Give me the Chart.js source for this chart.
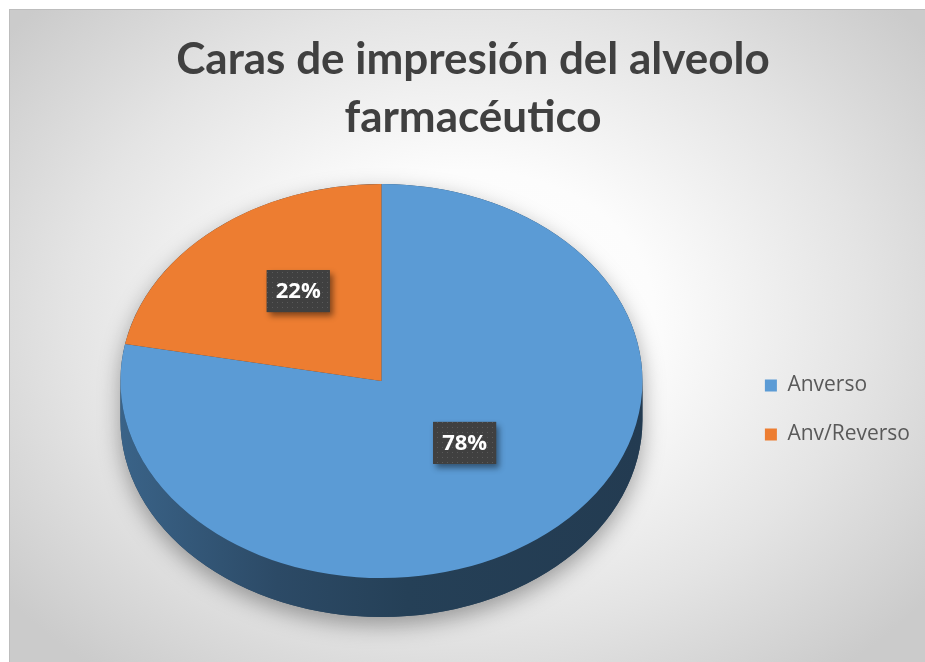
<!DOCTYPE html>
<html><head><meta charset="utf-8">
<script src="https://cdn.jsdelivr.net/npm/chart.js@4.4.1/dist/chart.umd.min.js"></script>
<style>
html,body{margin:0;padding:0;background:#fff;width:925px;height:662px;overflow:hidden;}
#frame{position:absolute;left:9px;top:9px;width:916px;height:653px;box-sizing:border-box;
  border-top:1px solid #bdbdbd;border-left:1px solid #bdbdbd;
  background:radial-gradient(ellipse 64% 70% at 50% 47%, #ffffff 0%, #fcfcfc 32%, #e4e4e4 68%, #cbcbcb 100%);}
canvas{position:absolute;left:0;top:0;}
</style></head><body>
<div id="frame"></div>
<canvas id="c" width="925" height="662"></canvas>
<script>
// ---- data ----
const titleLines = ['Caras de impresión del alveolo', 'farmacéutico'];
const categories = ['Anverso', 'Anv/Reverso'];
const percentages = [78, 22];
const sliceColors = ['#5b9bd5', '#ed7d31'];

// ---- 3D look (style constants) ----
const TILT = 0.755;       // vertical squash of the pie face
const DEPTH = 39;         // thickness of the pie side
const LABEL_FRACTION = 0.5;
const LABEL_LIFT = 14;

function shade(hex, f) {
  const n = parseInt(hex.slice(1), 16);
  const r = Math.round(((n >> 16) & 255) * f), g = Math.round(((n >> 8) & 255) * f), b = Math.round((n & 255) * f);
  return `rgb(${r},${g},${b})`;
}

function makePattern(ctx) {
  const t = document.createElement('canvas');
  t.width = 5; t.height = 5;
  const c = t.getContext('2d');
  c.fillStyle = '#404040'; c.fillRect(0, 0, 5, 5);
  c.fillStyle = '#5a5a5a'; c.fillRect(2, 2, 1, 1);
  return ctx.createPattern(t, 'repeat');
}

const pie3d = {
  id: 'pie3d',
  beforeDatasetsDraw(chart) {
    const ctx = chart.ctx;
    const meta = chart.getDatasetMeta(0);
    const a0 = meta.data[0];
    const cx = a0.x, cy = a0.y, r = a0.outerRadius, ry = r * TILT;
    ctx.save();
    // soft shadow of the whole solid
    ctx.save();
    ctx.shadowColor = 'rgba(0,0,0,0.35)';
    ctx.shadowBlur = 22;
    ctx.shadowOffsetY = 8;
    ctx.beginPath();
    ctx.ellipse(cx, cy, r, ry, 0, Math.PI, 2 * Math.PI);
    ctx.lineTo(cx + r, cy + DEPTH);
    ctx.ellipse(cx, cy + DEPTH, r, ry, 0, 0, Math.PI);
    ctx.closePath();
    ctx.fillStyle = shade(sliceColors[0], 0.42);
    ctx.fill();
    ctx.restore();
    // visible side walls
    meta.data.forEach((arc, i) => {
      const col = chart.data.datasets[0].backgroundColor[i];
      [[0, Math.PI], [2 * Math.PI, 3 * Math.PI], [-2 * Math.PI, -Math.PI]].forEach(([lo, hi]) => {
        const s = Math.max(arc.startAngle, lo), e = Math.min(arc.endAngle, hi);
        if (e <= s) return;
        const g = ctx.createLinearGradient(cx - r, 0, cx + r, 0);
        g.addColorStop(0, shade(col, 0.64));
        g.addColorStop(0.3, shade(col, 0.48));
        g.addColorStop(0.55, shade(col, 0.41));
        g.addColorStop(1, shade(col, 0.38));
        ctx.beginPath();
        ctx.ellipse(cx, cy, r, ry, 0, s, e);
        ctx.lineTo(cx + r * Math.cos(e), cy + ry * Math.sin(e) + DEPTH);
        ctx.ellipse(cx, cy + DEPTH, r, ry, 0, e, s, true);
        ctx.closePath();
        ctx.fillStyle = g;
        ctx.fill();
      });
    });
    // squash the face into an ellipse
    ctx.translate(cx, cy);
    ctx.scale(1, TILT);
    ctx.translate(-cx, -cy);
  },
  afterDatasetsDraw(chart) {
    const ctx = chart.ctx;
    ctx.restore();
    const meta = chart.getDatasetMeta(0);
    const vals = chart.data.datasets[0].data;
    const total = vals.reduce((a, b) => a + b, 0);
    const pattern = makePattern(ctx);
    meta.data.forEach((arc, i) => {
      const mid = (arc.startAngle + arc.endAngle) / 2;
      const x = arc.x + Math.cos(mid) * arc.outerRadius * LABEL_FRACTION;
      const y = arc.y + Math.sin(mid) * arc.outerRadius * LABEL_FRACTION * TILT - LABEL_LIFT;
      const text = Math.round(vals[i] / total * 100) + '%';
      ctx.save();
      ctx.font = 'bold 22px "Open Sans"';
      const w = ctx.measureText(text).width + 18, h = 42;
      ctx.shadowColor = 'rgba(0,0,0,0.45)';
      ctx.shadowBlur = 6;
      ctx.shadowOffsetX = 3;
      ctx.shadowOffsetY = 4;
      ctx.fillStyle = '#404040';
      ctx.fillRect(x - w / 2, y - h / 2, w, h);
      ctx.shadowColor = 'transparent';
      ctx.fillStyle = pattern;
      ctx.fillRect(x - w / 2, y - h / 2, w, h);
      ctx.fillStyle = '#ffffff';
      ctx.textAlign = 'center';
      ctx.textBaseline = 'middle';
      ctx.fillText(text, x, y + 1);
      ctx.restore();
    });
  }
};

function draw() {
  new Chart(document.getElementById('c'), {
    type: 'pie',
    data: {
      labels: categories,
      datasets: [{
        data: percentages,
        backgroundColor: sliceColors,
        borderWidth: 0,
        radius: 261,
        clip: false,
        hoverOffset: 0
      }]
    },
    options: {
      responsive: false,
      animation: false,
      events: [],
      layout: { padding: { left: 26, right: 5, top: 0, bottom: 49 } },
      plugins: {
        title: {
          display: true,
          text: titleLines,
          color: '#404040',
          font: { family: 'Lato', weight: 'bold', size: 44, lineHeight: '58px' },
          padding: { top: 31, bottom: 2 }
        },
        legend: {
          position: 'right',
          fullSize: false,
          title: { display: true, text: '', padding: 0, font: { size: 10, lineHeight: '58px' } },
          labels: {
            boxWidth: 12, boxHeight: 12, padding: 28, color: '#595959',
            font: { family: '"Open Sans"', size: 21 }
          }
        },
        tooltip: { enabled: false }
      }
    },
    plugins: [pie3d]
  });
}
Promise.all([
  document.fonts.load('bold 44px Lato'),
  document.fonts.load('21px "Open Sans"'),
  document.fonts.load('bold 22px "Open Sans"')
]).then(draw, draw);
</script>
</body></html>
